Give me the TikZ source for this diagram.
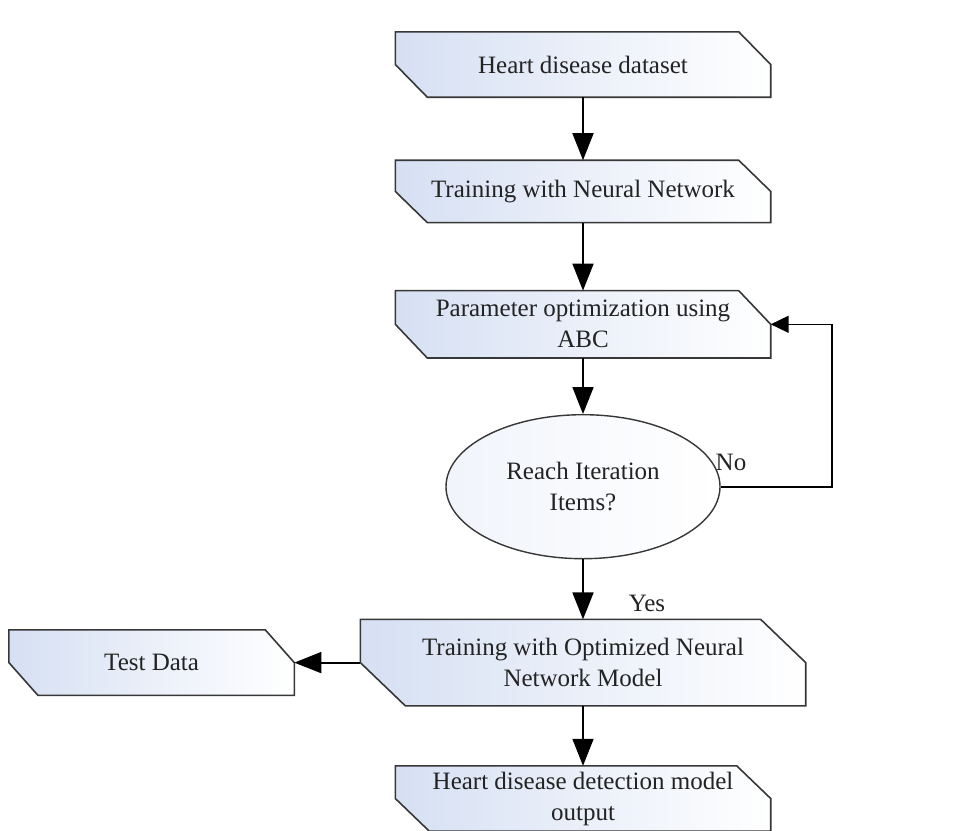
\documentclass[tikz,border=0pt]{standalone}
\usepackage{fontspec}
\setmainfont{Liberation Serif}
\usetikzlibrary{shapes.geometric, arrows.meta, positioning, backgrounds}
\definecolor{BoxBlue}{RGB}{214,224,243}
\definecolor{LineGray}{RGB}{55,55,55}
\definecolor{TextGray}{RGB}{35,35,35}
\tikzset{
  flowbox/.style={rectangle,align=center,text=TextGray,
    font=\fontsize{25}{31}\selectfont,
    inner sep=1pt,minimum width=375pt,minimum height=65pt},
  boxline/.style={draw=LineGray,line width=1.6pt,
    left color=BoxBlue,right color=white},
  decbox/.style={ellipse,draw=LineGray,line width=1.4pt,
    left color=BoxBlue!35,right color=white,
    align=center,text=TextGray,font=\fontsize{25}{31}\selectfont,
    inner sep=0pt,minimum width=274pt,minimum height=144pt},
  lbl/.style={text=TextGray,font=\fontsize{25}{31}\selectfont,inner sep=0pt},
  arrow/.style={-{Triangle[length=27pt,width=21pt]},line width=1.8pt,black},
  looparrow/.style={-{Triangle[length=18pt,width=17pt]},line width=1.6pt,black}
}

\begin{document}
\begin{tikzpicture}[x=1pt,y=1pt,node distance=60pt]
  \useasboundingbox (0,0) rectangle (953,-830);
  \node[flowbox] (data) at (583,-64.5) {Heart disease dataset};
  \node[flowbox,below=63pt of data,minimum height=62pt] (train) {Training with Neural Network};
  \node[flowbox,below=68pt of train,minimum height=67pt] (abc) {Parameter optimization using\\ABC};
  \node[decbox,below=56pt of abc] (iter) {Reach Iteration\\Items?};
  \node[flowbox,below=of iter,minimum width=445pt,minimum height=86pt] (opt) {Training with Optimized Neural\\Network Model};
  \node[flowbox,below=of opt] (out) {Heart disease detection model\\output};
  \node[flowbox,left=66pt of opt,minimum width=285pt] (test) {Test Data};
  \coordinate[right=111pt of iter.east] (turn);
  \node[lbl] (no) at (731,-462) {No};
  \node[lbl] (yes) at (647,-603) {Yes};
  % cut corners: top right and bottom left
  \begin{pgfonlayer}{background}
    \foreach \n/\d in {data/32,train/32,abc/32,opt/45,out/34,test/29}
      \draw[boxline] (\n.north west) -- ([xshift=-\d pt]\n.north east) -- (\n.east)
        -- (\n.south east) -- ([xshift=\d pt]\n.south west) -- (\n.west) -- cycle;
  \end{pgfonlayer}
  \foreach \a/\b in {data/train,train/abc,abc/iter,iter/opt,opt/out}
    \draw[arrow] (\a)--(\b);
  \draw[arrow] (opt)--(test);
  \draw[looparrow] (iter.east)--(turn)|-(abc.east);
\end{tikzpicture}
\end{document}
